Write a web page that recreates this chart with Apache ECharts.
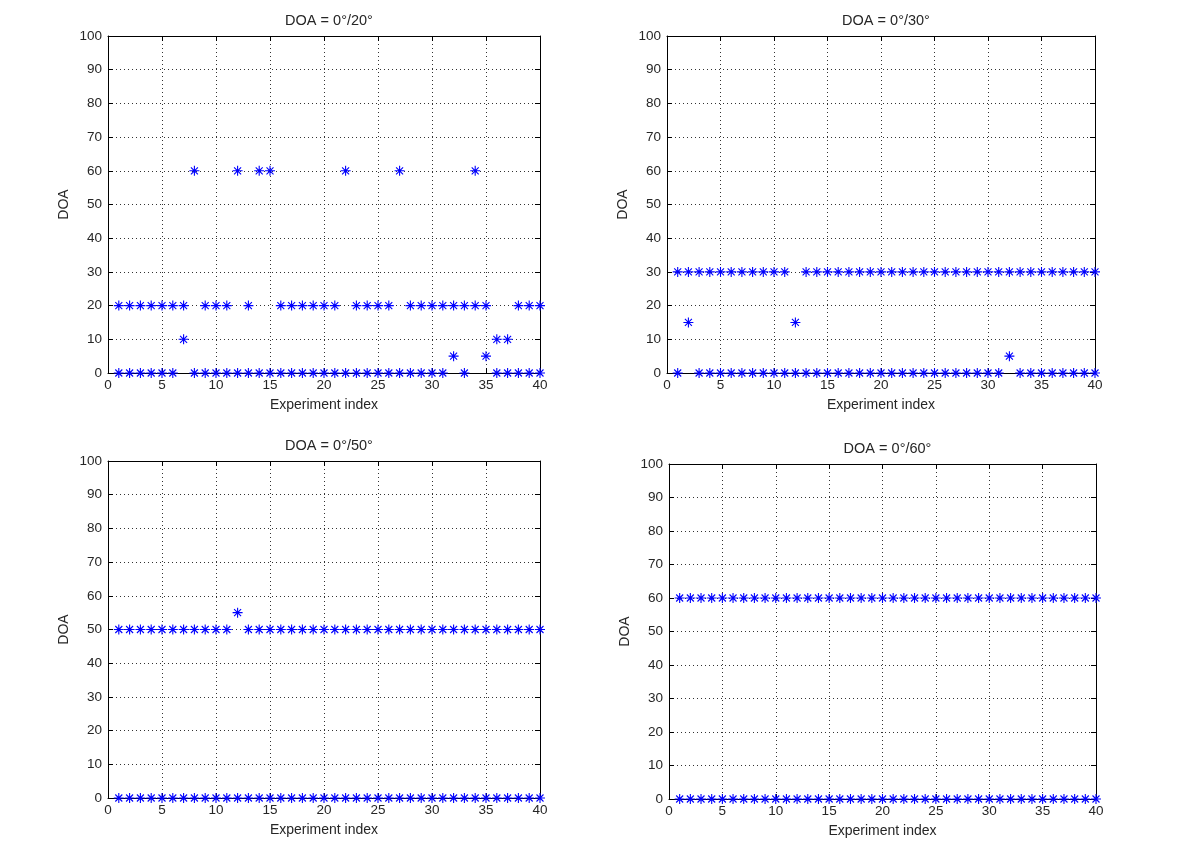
<!DOCTYPE html>
<html>
<head>
<meta charset="utf-8">
<script src="https://cdn.jsdelivr.net/npm/echarts@6/dist/echarts.min.js"></script>
<style>
html,body{margin:0;padding:0;background:#fff;}
#chart{width:1200px;height:849px;}
</style>
</head>
<body>
<div id="chart"></div>
<script>
// Two DOA estimates per experiment (experiments 1..40)
const titles = ['DOA = 0°/20°', 'DOA = 0°/30°', 'DOA = 0°/50°', 'DOA = 0°/60°'];
const xTicks = [0, 5, 10, 15, 20, 25, 30, 35, 40];
const yTicks = [0, 10, 20, 30, 40, 50, 60, 70, 80, 90, 100];

const p1High = [20,20,20,20,20,20,20,60,20,20,20,60,20,60,60,20,20,20,20,20,20,60,20,20,20,20,60,20,20,20,20,20,20,60,20,10,10,20,20,20];
const p1Low  = [0,0,0,0,0,0,10,0,0,0,0,0,0,0,0,0,0,0,0,0,0,0,0,0,0,0,0,0,0,0,0,5,0,20,5,0,0,0,0,0];

const p2High = [30,30,30,30,30,30,30,30,30,30,30,15,30,30,30,30,30,30,30,30,30,30,30,30,30,30,30,30,30,30,30,30,30,30,30,30,30,30,30,30];
const p2Low  = [0,15,0,0,0,0,0,0,0,0,0,0,0,0,0,0,0,0,0,0,0,0,0,0,0,0,0,0,0,0,0,5,0,0,0,0,0,0,0,0];

const p3High = [50,50,50,50,50,50,50,50,50,50,50,55,50,50,50,50,50,50,50,50,50,50,50,50,50,50,50,50,50,50,50,50,50,50,50,50,50,50,50,50];
const p3Low  = [0,0,0,0,0,0,0,0,0,0,0,0,0,0,0,0,0,0,0,0,0,0,0,0,0,0,0,0,0,0,0,0,0,0,0,0,0,0,0,0];

const p4High = [60,60,60,60,60,60,60,60,60,60,60,60,60,60,60,60,60,60,60,60,60,60,60,60,60,60,60,60,60,60,60,60,60,60,60,60,60,60,60,60];
const p4Low  = [0,0,0,0,0,0,0,0,0,0,0,0,0,0,0,0,0,0,0,0,0,0,0,0,0,0,0,0,0,0,0,0,0,0,0,0,0,0,0,0];

const panels = [[p1High, p1Low], [p2High, p2Low], [p3High, p3Low], [p4High, p4Low]];

const grids = [
  {left: 108, top: 36, width: 432, height: 337},
  {left: 667, top: 36, width: 428, height: 337},
  {left: 108, top: 461, width: 432, height: 337},
  {left: 669, top: 464, width: 427, height: 335}
];

const FONT = 'Liberation Sans, Arial, sans-serif';
const TXT = '#262626';
const asterisk = 'path://M0,-10L0,10M-10,0L10,0M-7,-7L7,7M-7,7L7,-7';

const option = {
  animation: false,
  backgroundColor: '#fff',
  title: [],
  grid: [],
  xAxis: [],
  yAxis: [],
  series: []
};

grids.forEach((g, i) => {
  option.grid.push({left: g.left, top: g.top, width: g.width, height: g.height, show: false, containLabel: false});
  option.title.push({
    text: titles[i],
    left: g.left + g.width / 2,
    top: g.top - 28,
    textAlign: 'center',
    textStyle: {fontFamily: FONT, fontSize: 14.5, fontWeight: 'normal', color: TXT}
  });
  const xMin = xTicks[0], xMax = xTicks[xTicks.length - 1];
  const yMin = yTicks[0], yMax = yTicks[yTicks.length - 1];
  const xInt = xTicks[1] - xTicks[0], yInt = yTicks[1] - yTicks[0];
  option.xAxis.push({
    type: 'value', gridIndex: i, min: xMin, max: xMax, interval: xInt, position: 'bottom',
    name: 'Experiment index', nameLocation: 'middle', nameGap: 25,
    nameTextStyle: {fontFamily: FONT, fontSize: 14, color: TXT},
    axisLine: {show: true, onZero: false, lineStyle: {color: '#000', width: 1}},
    axisTick: {show: true, inside: true, length: 5, lineStyle: {color: '#000'}},
    axisLabel: {fontFamily: FONT, fontSize: 13.5, color: TXT, margin: 5},
    splitLine: {show: true, lineStyle: {color: '#333', width: 1, type: [1, 3]}}
  });
  option.xAxis.push({
    type: 'value', gridIndex: i, min: xMin, max: xMax, interval: xInt, position: 'top',
    axisLine: {show: true, onZero: false, lineStyle: {color: '#000', width: 1}},
    axisTick: {show: true, inside: true, length: 5, lineStyle: {color: '#000'}},
    axisLabel: {show: false}, splitLine: {show: false}
  });
  option.yAxis.push({
    type: 'value', gridIndex: i, min: yMin, max: yMax, interval: yInt, position: 'left',
    name: 'DOA', nameLocation: 'middle', nameGap: 37, nameRotate: 90,
    nameTextStyle: {fontFamily: FONT, fontSize: 14, color: TXT},
    axisLine: {show: true, onZero: false, lineStyle: {color: '#000', width: 1}},
    axisTick: {show: true, inside: true, length: 5, lineStyle: {color: '#000'}},
    axisLabel: {fontFamily: FONT, fontSize: 13.5, color: TXT, margin: 6},
    splitLine: {show: true, lineStyle: {color: '#333', width: 1, type: [1, 3]}}
  });
  option.yAxis.push({
    type: 'value', gridIndex: i, min: yMin, max: yMax, interval: yInt, position: 'right',
    axisLine: {show: true, onZero: false, lineStyle: {color: '#000', width: 1}},
    axisTick: {show: true, inside: true, length: 5, lineStyle: {color: '#000'}},
    axisLabel: {show: false}, splitLine: {show: false}
  });
  panels[i].forEach(arr => {
    option.series.push({
      type: 'scatter',
      xAxisIndex: i * 2,
      yAxisIndex: i * 2,
      clip: false,
      symbol: asterisk,
      symbolSize: 10,
      itemStyle: {color: 'rgba(0,0,0,0)', borderColor: '#0000ff', borderWidth: 1.1, opacity: 1},
      emphasis: {disabled: true},
      data: arr.map((v, k) => [k + 1, v]),
      z: 5
    });
  });
});

const chart = echarts.init(document.getElementById('chart'), null, {renderer: 'canvas'});
chart.setOption(option);
</script>
</body>
</html>
